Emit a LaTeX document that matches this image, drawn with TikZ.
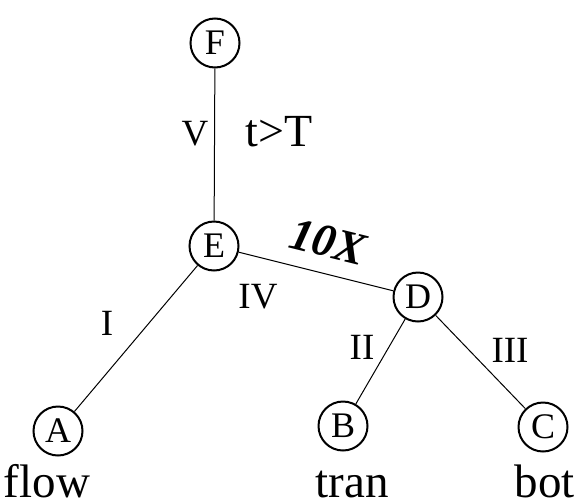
\documentclass[tikz,border=0pt]{standalone}
\usepackage{fontspec}
\setmainfont{Liberation Serif}
\begin{document}
\begin{tikzpicture}[x=1pt,y=-1pt,
  vert/.style={circle,draw,line width=2pt,minimum size=49pt,inner sep=0pt,font=\fontsize{36}{36}\selectfont},
  edge/.style={line width=1pt},
  lab/.style={font=\fontsize{37}{37}\selectfont,inner sep=0pt},
  big/.style={font=\fontsize{47}{47}\selectfont,inner sep=0pt,anchor=base}]
\useasboundingbox (0,0) rectangle (577,501);
\node[vert] (F) at (215,43) {F};
\node[vert] (E) at (214,246) {E};
\node[vert] (D) at (418,297) {D};
\node[vert] (A) at (58,431) {A};
\node[vert] (B) at (343,426) {B};
\node[vert] (C) at (543,427) {C};
\draw[edge] (F) -- (E);
\draw[edge] (E) -- (D);
\draw[edge] (E) -- (A);
\draw[edge] (D) -- (B);
\draw[edge] (D) -- (C);
\node[lab] (lV) at (195,134) {V};
\node[lab,font=\fontsize{46}{46}\selectfont] (lT) at (279,132) {t>T};
\node[lab,font=\fontsize{46}{46}\selectfont\bfseries\itshape,rotate=-14] (lX) at (328,242) {10X};
\node[lab] (lIV) at (258,297) {IV};
\node[lab] (lI) at (107,323) {I};
\node[lab] (lII) at (362,347) {II};
\node[lab] (lIII) at (510,350) {III};
\node[big] (flow) at (47,497) {flow};
\node[big] (tran) at (352,497) {tran};
\node[big] (bot) at (545,497) {bot};
\end{tikzpicture}
\end{document}
